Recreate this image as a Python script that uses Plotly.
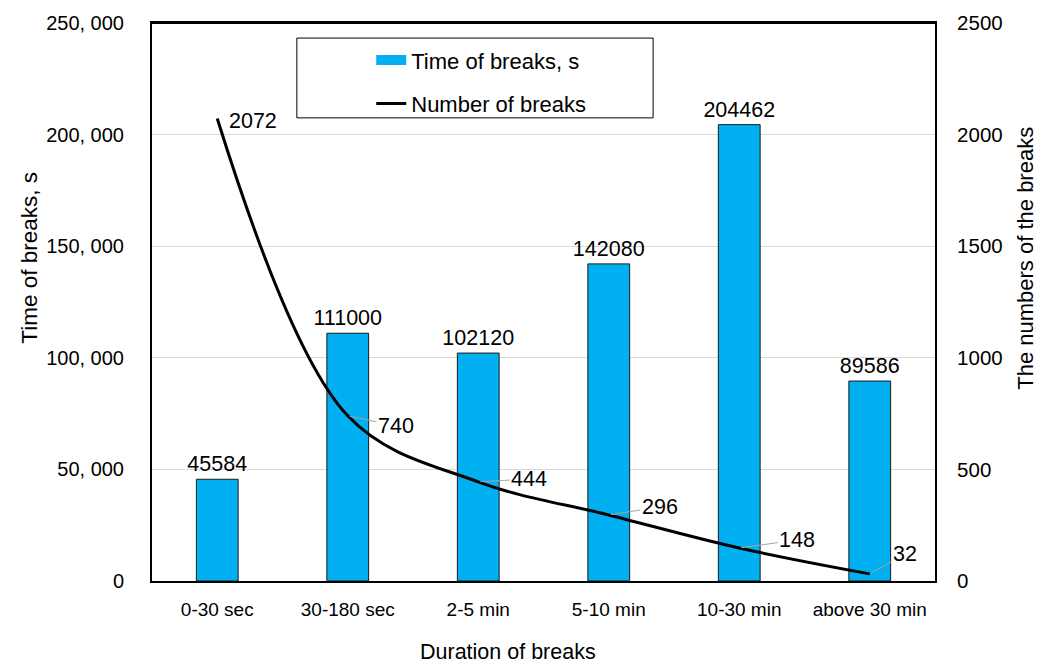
import plotly.graph_objects as go

categories = ["0-30 sec", "30-180 sec", "2-5 min", "5-10 min", "10-30 min", "above 30 min"]
time_of_breaks = [45584, 111000, 102120, 142080, 204462, 89586]
number_of_breaks = [2072, 740, 444, 296, 148, 32]

left_ticks = [0, 50000, 100000, 150000, 200000, 250000]
left_ticktext = ["0", "50, 000", "100, 000", "150, 000", "200, 000", "250, 000"]
right_ticks = [0, 500, 1000, 1500, 2000, 2500]

# label offsets (pixels) for the line labels
label_offsets = [(None, None), (48, 10), (51, -3), (51, -8), (58, -8), (35, -20)]

FONT = "Liberation Sans, Arial, sans-serif"
BAR_COLOR = "#00B0F0"

fig = go.Figure()
fig.add_trace(go.Bar(
    x=categories, y=time_of_breaks, name="Time of breaks, s",
    marker=dict(color=BAR_COLOR, line=dict(color="#1a1a1a", width=1)),
    width=0.32, text=[str(v) for v in time_of_breaks], textposition="outside",
    constraintext="none",
    textfont=dict(size=21.5, color="#000000", family=FONT), cliponaxis=False,
    showlegend=False, yaxis="y",
))
# legend swatch for the bars (legend-only entry)
fig.add_trace(go.Scatter(
    x=[None], y=[None], name="Time of breaks, s", mode="lines",
    line=dict(color=BAR_COLOR, width=12), legendgroup="a", yaxis="y",
))
fig.add_trace(go.Scatter(
    x=categories, y=number_of_breaks, name="Number of breaks", mode="lines",
    line=dict(color="#000000", width=3, shape="spline", smoothing=1.0),
    legendgroup="b", yaxis="y2",
))

annotations = []
for cat, val, (ax, ay) in zip(categories, number_of_breaks, label_offsets):
    if ax is None:
        annotations.append(dict(x=cat, y=val, xref="x", yref="y2", text=str(val),
                                showarrow=False, xanchor="left", xshift=10, yshift=-2,
                                font=dict(size=21.5, color="#000", family=FONT)))
    else:
        annotations.append(dict(x=cat, y=val, xref="x", yref="y2", text=str(val),
                                showarrow=True, arrowhead=0, arrowwidth=1, arrowcolor="#A6A6A6",
                                ax=ax, ay=ay, standoff=2,
                                font=dict(size=21.5, color="#000", family=FONT)))

annotations += [
    dict(x=-0.156, y=0.579, xref="paper", yref="paper", text="Time of breaks, s", textangle=-90,
         xanchor="center", yanchor="middle",
         showarrow=False, font=dict(size=22.5, color="#000", family=FONT)),
    dict(x=1.116, y=0.579, xref="paper", yref="paper", text="The numbers of the breaks", textangle=-90,
         xanchor="center", yanchor="middle",
         showarrow=False, font=dict(size=22, color="#000", family=FONT)),
    dict(x=0.455, y=-0.1505, xref="paper", yref="paper", text="Duration of breaks",
         xanchor="center", yanchor="bottom", borderpad=0,
         showarrow=False, font=dict(size=21.5, color="#000", family=FONT)),
]

fig.update_layout(
    width=1049, height=666,
    margin=dict(l=152, r=114, t=23, b=85),
    paper_bgcolor="white", plot_bgcolor="white",
    font=dict(family=FONT, size=20, color="#000"),
    showlegend=True,
    legend=dict(x=0.28, y=0.971, xanchor="left", yanchor="top", bgcolor="rgba(0,0,0,0)",
                font=dict(size=22, family=FONT), tracegroupgap=12, traceorder="grouped"),
    xaxis=dict(showline=True, linecolor="#000", linewidth=2, mirror=True, ticks="",
               ticklabelstandoff=10, tickfont=dict(size=19), showgrid=False),
    yaxis=dict(range=[0, 250000], tickvals=left_ticks, ticktext=left_ticktext,
               showline=True, linecolor="#000", linewidth=2, ticks="",
               ticklabelstandoff=22, showgrid=True, gridcolor="#D9D9D9", gridwidth=1,
               zeroline=False, tickfont=dict(size=20)),
    yaxis2=dict(range=[0, 2500], tickvals=right_ticks, overlaying="y", side="right",
                showline=True, linecolor="#000", linewidth=2, ticks="",
                ticklabelstandoff=16, showgrid=False, zeroline=False, tickfont=dict(size=20.5)),
    shapes=[dict(type="line", xref="paper", yref="paper", x0=0, x1=1, y0=1, y1=1,
                 line=dict(color="#000", width=2)),
            dict(type="rect", xref="paper", yref="paper", x0=0.185, x1=0.640, y0=0.830, y1=0.973,
                 line=dict(color="#000", width=1), fillcolor="rgba(0,0,0,0)")],
    annotations=annotations,
    bargap=0.68,
)

fig.write_html("out.html")
